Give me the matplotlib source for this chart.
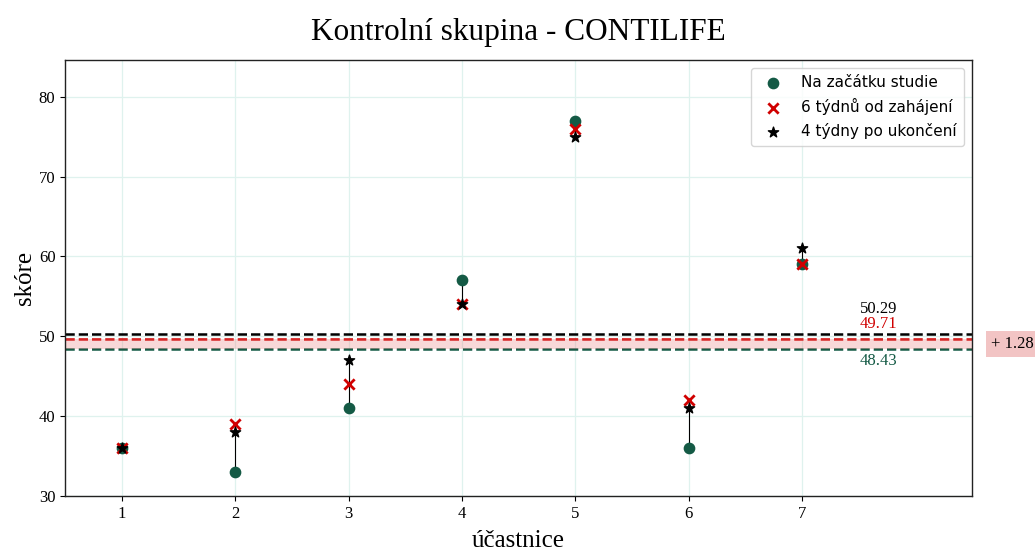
import numpy as np
from matplotlib import pyplot as plt

# skóre účastnic kontrolní skupiny ve třech měřeních
ucastnice = [1, 2, 3, 4, 5, 6, 7]
zacatek = [36, 33, 41, 57, 77, 36, 59]
po_6_tydnech = [36, 39, 44, 54, 76, 42, 59]
po_ukonceni = [36, 38, 47, 54, 75, 41, 61]

# průměry skupiny
prumer_zacatek = 48.43
prumer_6_tydnu = 49.71
prumer_ukonceni = 50.29

zelena = '#145a45'
cervena = '#d00000'
serif = 'Liberation Serif'

fig, ax = plt.subplots(figsize=(10.35, 5.55), dpi=100)
fig.subplots_adjust(left=0.063, right=0.939, top=0.892, bottom=0.106)

ax.grid(True, color='#dff2ee', linewidth=0.9, zorder=0)
ax.set_axisbelow(True)

# spojnice mezi prvním a posledním měřením
for x, a, b in zip(ucastnice, zacatek, po_ukonceni):
    ax.plot([x, x], [a, b], color='black', linewidth=0.8, zorder=2)

ax.scatter(ucastnice, zacatek, s=55, color=zelena, label='Na začátku studie', zorder=3)
ax.scatter(ucastnice, po_6_tydnech, s=55, color=cervena, marker='x', linewidths=2,
           label='6 týdnů od zahájení', zorder=4)
ax.scatter(ucastnice, po_ukonceni, s=60, color='black', marker='*',
           label='4 týdny po ukončení', zorder=5)

ax.axhline(prumer_ukonceni, color='black', linestyle='--', linewidth=1.8, zorder=1)
ax.axhline(prumer_6_tydnu, color=cervena, linestyle='--', linewidth=1.8, zorder=1)
ax.axhline(prumer_zacatek, color=zelena, linestyle='--', linewidth=1.8, zorder=1)
ax.axhspan(prumer_zacatek, prumer_6_tydnu, color='#e88080', alpha=0.3, linewidth=0, zorder=1)

tx = 7.68
ax.text(tx, prumer_ukonceni + 3.1, f'{prumer_ukonceni:.2f}', ha='center', va='center',
        fontsize=12, family=serif, color='black')
ax.text(tx, prumer_6_tydnu + 1.8, f'{prumer_6_tydnu:.2f}', ha='center', va='center',
        fontsize=12, family=serif, color=cervena)
ax.text(tx, prumer_zacatek - 1.5, f'{prumer_zacatek:.2f}', ha='center', va='center',
        fontsize=12, family=serif, color=zelena)

rozdil = prumer_6_tydnu - prumer_zacatek
ax.text(8.86, (prumer_zacatek + prumer_6_tydnu) / 2, f'+ {rozdil:.2f}', ha='center', va='center',
        fontsize=12, family=serif, color='black', clip_on=False,
        bbox=dict(boxstyle='square,pad=0.3', facecolor='#f2c4c4', edgecolor='none'))

ax.set_xlim(0.5, 8.5)
ax.set_ylim(30, 84.6)
ax.set_xticks(ucastnice)
ax.set_yticks([30, 40, 50, 60, 70, 80])
for lbl in ax.get_xticklabels() + ax.get_yticklabels():
    lbl.set_family(serif)
    lbl.set_fontsize(12)

ax.set_xlabel('účastnice', family=serif, fontsize=18, labelpad=6)
ax.set_ylabel('skóre', family=serif, fontsize=18, labelpad=2)
ax.set_title('Kontrolní skupina - CONTILIFE', family=serif, fontsize=22.5, pad=14)

for s in ax.spines.values():
    s.set_color('#222222')
    s.set_linewidth(1.0)

ax.legend(loc='upper right', fontsize=11, frameon=True, borderpad=0.5, handletextpad=0.8)

plt.savefig('out.png', dpi=100)
